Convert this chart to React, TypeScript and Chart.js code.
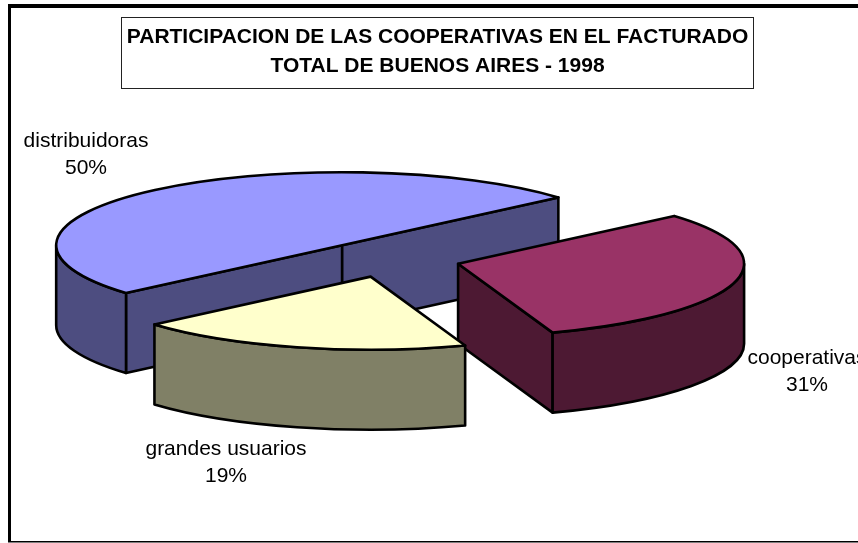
import React, { useEffect, useRef } from "react";
import { Chart, registerables } from "chart.js";

Chart.register(...registerables);

const categories = ["distribuidoras", "cooperativas", "grandes usuarios"];
const shares = [50, 31, 19];
const topColors = ["#9999FF", "#993366", "#FFFFCC"];
const wallColors = ["#4D4D80", "#4D1933", "#808066"];
const titleLines = [
  "PARTICIPACION DE LAS COOPERATIVAS EN EL FACTURADO",
  "TOTAL DE BUENOS AIRES - 1998",
];
const labelAnchors = [
  { x: 86, y: 141 },
  { x: 807, y: 358 },
  { x: 226, y: 449 },
];

const TAU = Math.PI * 2;
const SCALE_X = 1.43;
const SCALE_Y = 0.365;
const EXPLODE = 0.25;
const DEPTH = 80;

const norm = (t: number) => ((t % TAU) + TAU) % TAU;

const pie3d = {
  id: "pie3d",
  beforeDatasetDraw() {
    return false; // the flat arcs are replaced by their tilted 3D form below
  },
  afterDatasetsDraw(chart: any) {
    const { ctx } = chart;
    const arcs = chart.getDatasetMeta(0).data;
    const order = [0, 1, 2];
    ctx.save();
    ctx.lineJoin = "round";
    ctx.lineCap = "round";
    ctx.strokeStyle = "#000";
    ctx.lineWidth = 2.6;
    const paint = (fill: string) => {
      ctx.fillStyle = fill;
      ctx.fill();
      ctx.stroke();
    };
    order.forEach((i) => {
      const arc = arcs[i];
      const a = arc.outerRadius * SCALE_X;
      const b = arc.outerRadius * SCALE_Y;
      const mid = (arc.startAngle + arc.endAngle) / 2;
      const cx = arc.x + Math.cos(mid) * a * EXPLODE;
      const cy = arc.y + Math.sin(mid) * b * EXPLODE;
      const s = arc.startAngle;
      const e = arc.endAngle;
      const rim = (t: number) => [cx + a * Math.cos(t), cy + b * Math.sin(t)];
      const radial = (t: number) => {
        const [x, y] = rim(t);
        ctx.beginPath();
        ctx.moveTo(cx, cy);
        ctx.lineTo(x, y);
        ctx.lineTo(x, y + DEPTH);
        ctx.lineTo(cx, cy + DEPTH);
        ctx.closePath();
        paint(wallColors[i]);
      };
      // radial side walls that face the viewer
      if (Math.cos(s) < 0) radial(s);
      if (Math.cos(e) > 0) radial(e);
      // outer wall: the part of the rim on the near half of the ellipse
      const ns = norm(s);
      const ne = ns + (e - s);
      [0, TAU].forEach((base) => {
        const from = Math.max(ns, base);
        const to = Math.min(ne, base + Math.PI);
        if (to > from) {
          ctx.beginPath();
          ctx.ellipse(cx, cy, a, b, 0, from, to);
          ctx.ellipse(cx, cy + DEPTH, a, b, 0, to, from, true);
          ctx.closePath();
          paint(wallColors[i]);
        }
      });
      // top face
      ctx.beginPath();
      ctx.moveTo(cx, cy);
      ctx.ellipse(cx, cy, a, b, 0, s, e);
      ctx.closePath();
      paint(topColors[i]);
    });
    ctx.restore();
  },
  afterDraw(chart: any) {
    const { ctx } = chart;
    ctx.save();
    // chart frame; its right edge lies past the picture
    ctx.fillStyle = "#000";
    ctx.fillRect(8, 4, 850, 4);
    ctx.fillRect(8, 4, 3, 538);
    ctx.fillRect(8, 541, 850, 1.5);
    // title box
    ctx.strokeStyle = "#222";
    ctx.lineWidth = 1;
    ctx.fillStyle = "#fff";
    ctx.fillRect(121.5, 17.5, 632, 71);
    ctx.strokeRect(121.5, 17.5, 632, 71);
    ctx.fillStyle = "#000";
    ctx.textAlign = "center";
    ctx.textBaseline = "middle";
    ctx.font = "bold 21px 'Liberation Sans', Arial, sans-serif";
    titleLines.forEach((line, i) => ctx.fillText(line, 437.5, 37 + i * 29));
    // slice labels
    ctx.font = "21px 'Liberation Sans', Arial, sans-serif";
    categories.forEach((name, i) => {
      const p = labelAnchors[i];
      ctx.fillText(name, p.x, p.y);
      ctx.fillText(`${shares[i]}%`, p.x, p.y + 27);
    });
    ctx.restore();
  },
};

export default function App() {
  const ref = useRef<HTMLCanvasElement | null>(null);
  useEffect(() => {
    const chart = new Chart(ref.current as HTMLCanvasElement, {
      type: "pie",
      data: {
        labels: categories,
        datasets: [{ data: shares, backgroundColor: topColors, borderWidth: 0 }],
      },
      options: {
        responsive: false,
        animation: false,
        rotation: 229.1,
        layout: { padding: { left: 189, right: 269, top: 59, bottom: 84 } },
        plugins: { legend: { display: false }, tooltip: { enabled: false }, title: { display: false } },
      },
      plugins: [pie3d],
    } as any);
    return () => chart.destroy();
  }, []);
  return (
    <canvas
      ref={ref}
      width={858}
      height={543}
      style={{ position: "fixed", left: 0, top: 0, width: 858, height: 543, background: "#fff" }}
    />
  );
}
